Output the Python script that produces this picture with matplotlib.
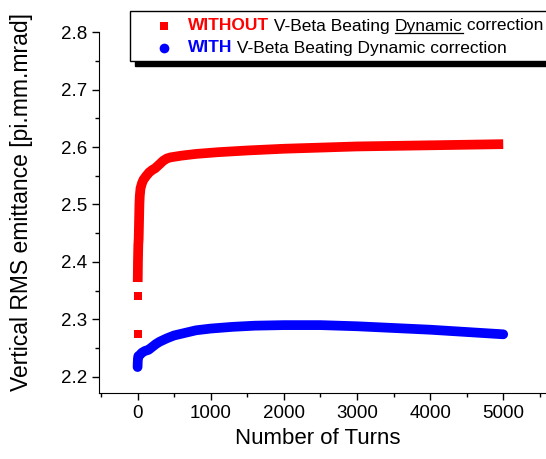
import numpy as np
import matplotlib.pyplot as plt
from matplotlib.patches import Rectangle
from matplotlib.ticker import MultipleLocator

plt.rcParams['font.family'] = ['Liberation Sans', 'DejaVu Sans']

# emittance without the dynamic correction (red)
turns_without = [0, 1, 2, 5, 10, 15, 20, 25, 30, 40, 60, 80, 120, 160, 200, 240,
                 300, 350, 400, 450, 600, 800, 1100, 1500, 2000, 2500, 3000,
                 3500, 4000, 4500, 5000]
emit_without = [2.275, 2.340, 2.365, 2.400, 2.430, 2.440, 2.470, 2.500, 2.515,
                2.528, 2.537, 2.543, 2.550, 2.556, 2.560, 2.563, 2.570, 2.576,
                2.580, 2.582, 2.585, 2.588, 2.591, 2.594, 2.597, 2.599, 2.601,
                2.602, 2.603, 2.604, 2.605]

# emittance with the dynamic correction (blue)
turns_with = [0, 2, 5, 10, 30, 60, 100, 150, 200, 250, 300, 400, 500, 600, 800,
              1000, 1300, 1600, 2000, 2500, 3000, 3500, 4000, 4500, 5000]
emit_with = [2.217, 2.225, 2.232, 2.236, 2.238, 2.242, 2.245, 2.247, 2.252,
             2.257, 2.261, 2.267, 2.272, 2.275, 2.281, 2.284, 2.287, 2.289,
             2.290, 2.290, 2.288, 2.285, 2.282, 2.278, 2.274]

fig = plt.figure(figsize=(5.46, 4.59), dpi=100)
ax = fig.add_axes([0.181, 0.144, 0.817, 0.786])

# first two samples stand apart from the rest of the red curve
ax.plot(turns_without[:2], emit_without[:2], 's', color='red', ms=5.5, mew=0)
ax.plot(turns_without[2:], emit_without[2:], '-', color='red', lw=7,
        solid_capstyle='butt', solid_joinstyle='miter')
ax.plot(turns_with, emit_with, '-', color='blue', lw=7,
        solid_capstyle='round', solid_joinstyle='round')

ax.set_xlim(-530, 5570)
ax.set_ylim(2.172, 2.8)
ax.xaxis.set_major_locator(MultipleLocator(1000))
ax.xaxis.set_minor_locator(MultipleLocator(500))
ax.yaxis.set_major_locator(MultipleLocator(0.1))
ax.yaxis.set_minor_locator(MultipleLocator(0.05))
ax.tick_params(which='major', direction='out', length=5, width=1, labelsize=13.5)
ax.tick_params(which='minor', direction='out', length=3, width=1)
ax.spines['top'].set_visible(False)
ax.spines['right'].set_visible(False)
ax.set_xlabel('Number of Turns', fontsize=16, va='center')
ax.set_ylabel('Vertical RMS emittance [pi.mm.mrad]', fontsize=16.5, va='center')
ax.xaxis.set_label_coords(0.491, -0.125)
ax.yaxis.set_label_coords(-0.173, 0.53)

# hand-built legend box with a drop shadow
W, H = fig.bbox.width, fig.bbox.height
bx0, by0, bx1, by1 = 130, 11, 560, 61
fig.patches.append(Rectangle(((bx0 + 5) / W, 1 - (by1 + 5) / H), (bx1 - bx0) / W,
                             (by1 - by0) / H, transform=fig.transFigure,
                             facecolor='black', edgecolor='black', zorder=5))
fig.patches.append(Rectangle((bx0 / W, 1 - by1 / H), (bx1 - bx0) / W,
                             (by1 - by0) / H, transform=fig.transFigure,
                             facecolor='white', edgecolor='black', lw=1, zorder=6))

fig.lines.append(plt.Line2D([164 / W], [1 - 26 / H], marker='s', color='red',
                            ms=6, mew=0, transform=fig.transFigure, zorder=7))
fig.lines.append(plt.Line2D([164 / W], [1 - 48 / H], marker='o', color='blue',
                            ms=7, mew=0, transform=fig.transFigure, zorder=7))


def legend_row(y, parts):
    # place each piece of the row right after the previous one
    r = fig.canvas.get_renderer()
    x = 188
    out = []
    for txt, color, weight in parts:
        t = fig.text(x / W, 1 - y / H, txt, color=color, fontweight=weight,
                     fontsize=12.5, va='center', ha='left', zorder=8)
        x += t.get_window_extent(r).width
        out.append(t)
    return out


row1 = legend_row(26, [('WITHOUT', 'red', 'bold'), (' V-Beta Beating ', 'black', 'normal'),
                       ('Dynamic', 'black', 'normal'), (' correction', 'black', 'normal')])
legend_row(48, [('WITH', 'blue', 'bold'),
                (' V-Beta Beating Dynamic correction', 'black', 'normal')])

# underline under "Dynamic"
r = fig.canvas.get_renderer()
bb = row1[2].get_window_extent(r)
fig.lines.append(plt.Line2D([bb.x0 / W, bb.x1 / W], [(bb.y0 + 1) / H] * 2,
                            color='black', lw=0.9, transform=fig.transFigure,
                            zorder=8))

fig.savefig('out.png', dpi=100)
